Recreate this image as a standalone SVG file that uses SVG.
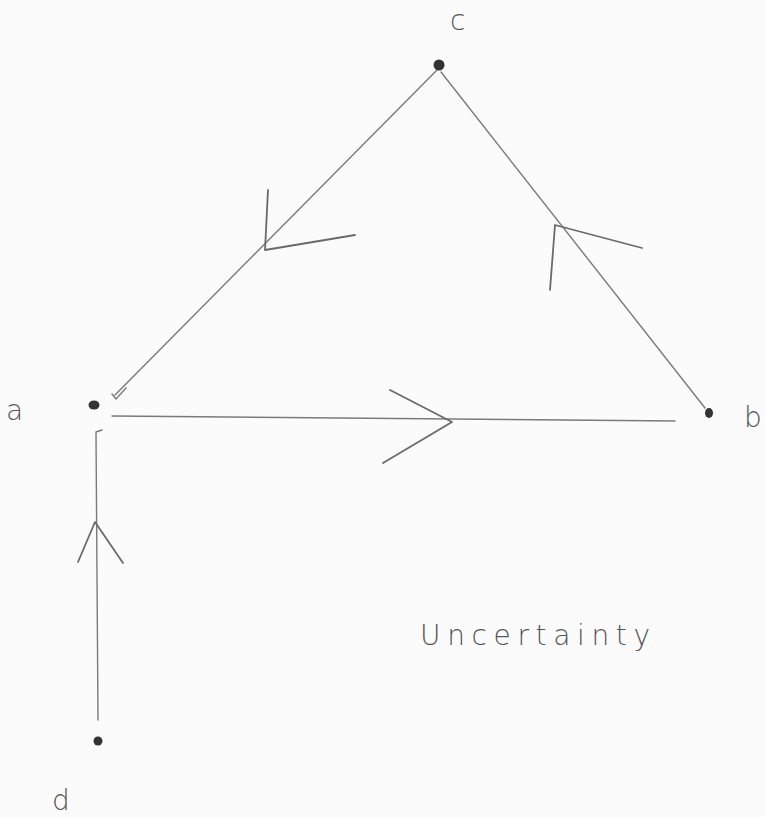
<svg xmlns="http://www.w3.org/2000/svg" width="765" height="817" viewBox="0 0 765 817">
<style>
.e{stroke:#7a7a7a;stroke-width:1.4;fill:none;stroke-linecap:round;stroke-linejoin:round}
.h{stroke:#6a6a6a;stroke-width:1.8;fill:none;stroke-linecap:round;stroke-linejoin:round}
.dot{fill:#333}
.lbl{font-family:"DejaVu Sans","Liberation Sans",sans-serif;font-size:28px;fill:#555;font-weight:300}
.note{font-family:"DejaVu Sans","Liberation Sans",sans-serif;font-size:28px;fill:#555;font-weight:300;letter-spacing:2px}
</style>
<rect width="765" height="817" fill="#fbfbfb"/>
<g id="connectors">
<path class="e" d="M437 70 L115 395"/>
<path class="e" d="M441 72 L705 408"/>
<path class="e" d="M112 416 L675 421"/>
<path class="e" d="M98 720 L96 432 L102 430"/>
<path class="h" d="M268 190 L265 250 L355 235"/>
<path class="h" d="M550 290 L555 225 L642 248"/>
<path class="h" d="M390 390 L452 422 L383 463"/>
<path class="h" d="M78 562 L95 522 L123 563"/>
<path class="e" d="M112 394 L116 399 L126 388"/>
</g>
<g id="node-c"><ellipse class="dot" cx="439" cy="65" rx="5.5" ry="5.5"/><text class="lbl" x="450" y="30">c</text></g>
<g id="node-a"><ellipse class="dot" cx="94" cy="405" rx="5.5" ry="4.5"/><text class="lbl" x="6" y="420">a</text></g>
<g id="node-b"><ellipse class="dot" cx="709" cy="413" rx="4" ry="5"/><text class="lbl" x="744" y="427">b</text></g>
<g id="node-d"><ellipse class="dot" cx="98" cy="741" rx="4.5" ry="4.5"/><text class="lbl" x="52" y="810">d</text></g>
<g id="label-uncertainty"><text class="note" x="420" y="645" textLength="232" lengthAdjust="spacing">Uncertainty</text></g>
</svg>
